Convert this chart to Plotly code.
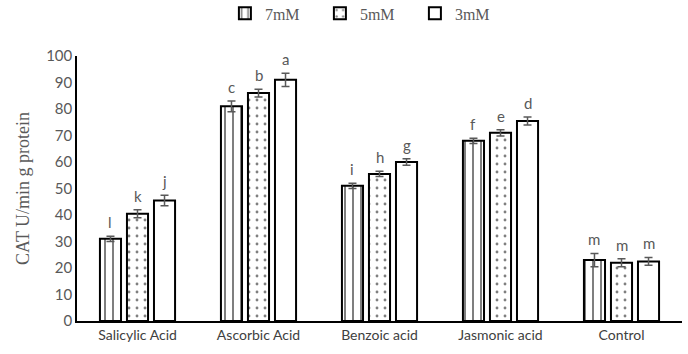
import plotly.graph_objects as go

categories = ["Salicylic Acid", "Ascorbic Acid", "Benzoic acid", "Jasmonic acid", "Control"]
series_names = ["7mM", "5mM", "3mM"]
values_7mM = [31, 81, 51, 68, 23]
values_5mM = [40.5, 86, 55.5, 71, 22]
values_3mM = [45.5, 91, 60, 75.5, 22.5]
err_7mM = [1.0, 2.0, 1.0, 1.0, 2.5]
err_5mM = [1.5, 1.5, 1.0, 1.2, 1.5]
err_3mM = [2.0, 2.5, 1.2, 1.5, 1.5]
letters_7mM = ["l", "c", "i", "f", "m"]
letters_5mM = ["k", "b", "h", "e", "m"]
letters_3mM = ["j", "a", "g", "d", "m"]

values = [values_7mM, values_5mM, values_3mM]
errors = [err_7mM, err_5mM, err_3mM]
letters = [letters_7mM, letters_5mM, letters_3mM]
patterns = [
    dict(shape="|", fgcolor="black", bgcolor="white", size=8, solidity=0.25),
    dict(shape=".", fgcolor="black", bgcolor="white", size=8, solidity=0.1),
    dict(shape="", bgcolor="white"),
]

grey = "#595959"
fig = go.Figure()
for i, name in enumerate(series_names):
    fig.add_trace(go.Bar(
        name=name,
        x=categories,
        y=values[i],
        marker=dict(color="white", line=dict(color="black", width=2), pattern=patterns[i]),
        error_y=dict(type="data", array=errors[i], color=grey, thickness=1.5, width=4),
        offsetgroup=str(i),
    ))

# significance letters above each error bar
n = len(series_names)
slot = 0.67 / n
for i in range(n):
    for j, cat in enumerate(categories):
        fig.add_annotation(
            x=j + (i - 1) * slot, y=values[i][j] + errors[i][j],
            text=letters[i][j], showarrow=False, yanchor="bottom", yshift=3,
            font=dict(family="Lato, Liberation Sans, sans-serif", size=15, color=grey),
        )

fig.update_layout(
    width=688, height=354,
    margin=dict(l=77, r=6, t=56, b=33, autoexpand=False),
    plot_bgcolor="white", paper_bgcolor="white",
    barmode="group", bargap=0.33, bargroupgap=0.22,
    showlegend=True,
    legend=dict(orientation="h", x=0.48, xanchor="center", y=1.225, yanchor="top",
                font=dict(family="Liberation Serif, serif", size=16, color=grey),
                itemwidth=30, entrywidth=50, entrywidthmode="pixels"),
    xaxis=dict(type="category", showline=True, linecolor="black", linewidth=1.5,
               ticks="", tickfont=dict(family="Lato, Liberation Sans, sans-serif", size=14, color="#404040")),
    yaxis=dict(range=[0, 100], dtick=10, showline=True, linecolor="black", linewidth=1.5,
               showgrid=False, zeroline=False, ticks="",
               tickfont=dict(family="Lato, Liberation Sans, sans-serif", size=15, color=grey),
               title=dict(text="CAT U/min g protein", standoff=12,
                          font=dict(family="Liberation Serif, serif", size=18, color=grey))),
)

fig.write_html("out.html")
